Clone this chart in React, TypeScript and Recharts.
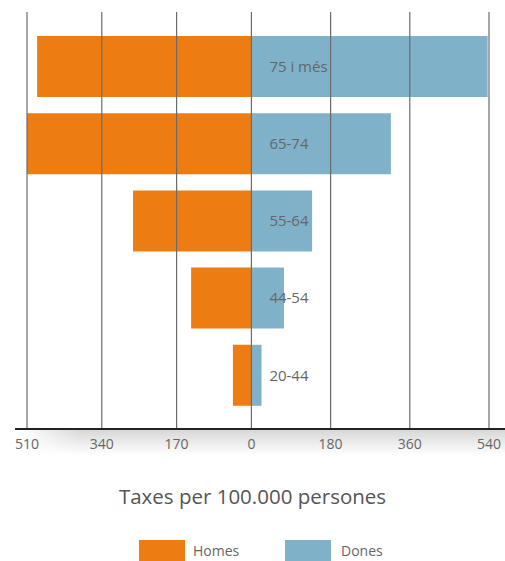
import React from "react";
import { BarChart, Bar, XAxis, YAxis, ReferenceLine, LabelList } from "recharts";

const categories = ["75 i més", "65-74", "55-64", "44-54", "20-44"];
const homes = [487, 512, 269, 137, 42];
const dones = [537, 317, 138, 74, 23];
const xTicks = [-510, -340, -170, 0, 180, 360, 540];

const ORANGE = "#ED7D12";
const BLUE = "#7FB2C9";
const FONT = "'Open Sans', 'Noto Sans', sans-serif";

const data = categories.map((c, i) => ({ cat: c, homes: -homes[i], dones: dones[i] }));

const CatLabel = (props: any) => {
  const { x, y, height, value } = props;
  return (
    <text x={x + 18} y={y + height / 2} dy="0.35em" fill="#666" fontSize={15} fontFamily={FONT} textAnchor="start">
      {value}
    </text>
  );
};

export default function App() {
  return (
    <div style={{ position: "absolute", left: 0, top: 0, width: 505, height: 561, background: "#fff", overflow: "hidden", fontFamily: FONT }}>
      <div
        style={{
          position: "absolute",
          left: 20,
          top: 429,
          width: 485,
          height: 26,
          background: "linear-gradient(to bottom, rgba(0,0,0,0.16), rgba(0,0,0,0))",
          WebkitMaskImage: "linear-gradient(to right, transparent 0px, black 60px)",
          maskImage: "linear-gradient(to right, transparent 0px, black 60px)",
        }}
      />
      <div style={{ position: "absolute", left: 0, top: 0 }}>
        <BarChart
          width={505}
          height={470}
          data={data}
          layout="vertical"
          stackOffset="sign"
          margin={{ top: 12, right: 16, bottom: 12, left: 27 }}
        >
          <XAxis
            type="number"
            domain={[-510, 540]}
            ticks={xTicks}
            allowDataOverflow
            tickFormatter={(v: number) => String(Math.abs(v))}
            tick={{ fill: "#666", fontSize: 14, fontFamily: FONT }}
            tickLine={false}
            axisLine={false}
            height={30}
            tickMargin={5}
            interval={0}
          />
          <YAxis type="category" dataKey="cat" hide padding={{ top: 16, bottom: 14 }} />
          <Bar dataKey="homes" stackId="a" fill={ORANGE} barSize={61} isAnimationActive={false} />
          <Bar dataKey="dones" stackId="a" fill={BLUE} barSize={61} isAnimationActive={false}>
            <LabelList dataKey="cat" content={CatLabel} />
          </Bar>
          {xTicks.map((t) => (
            <ReferenceLine key={t} x={t} stroke="#6b6b6b" strokeWidth={1.2} />
          ))}
        </BarChart>
      </div>
      <div style={{ position: "absolute", left: 15, top: 428, width: 490, height: 1.5, background: "#222" }} />
      <div style={{ position: "absolute", left: 0, width: 505, top: 482, textAlign: "center", fontSize: 20.5, color: "#555" }}>
        Taxes per 100.000 persones
      </div>
      <div style={{ position: "absolute", left: 139, top: 540, width: 46, height: 21, background: ORANGE }} />
      <div style={{ position: "absolute", left: 193, top: 541, fontSize: 14, color: "#666", lineHeight: "20px" }}>Homes</div>
      <div style={{ position: "absolute", left: 285, top: 540, width: 46, height: 21, background: BLUE }} />
      <div style={{ position: "absolute", left: 341, top: 541, fontSize: 14, color: "#666", lineHeight: "20px" }}>Dones</div>
    </div>
  );
}
